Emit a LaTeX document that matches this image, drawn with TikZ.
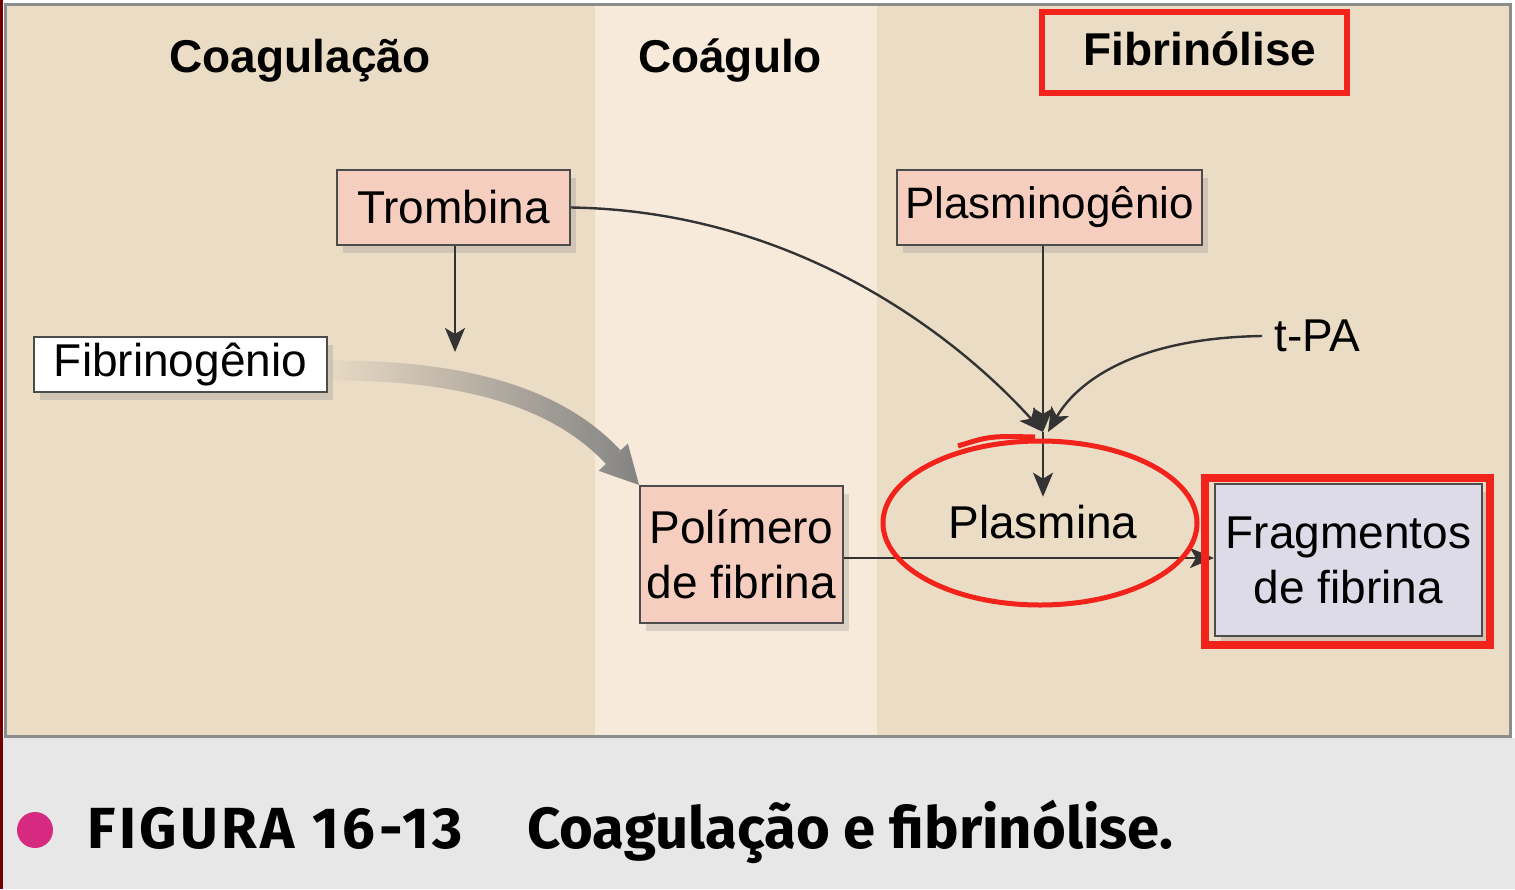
\documentclass[tikz,border=0pt]{standalone}
\usepackage{fontspec}
\setmainfont{Liberation Sans}
\newfontfamily\capfont{Fira Sans}
\usetikzlibrary{arrows.meta,positioning,calc,shadows,fadings}

\definecolor{panelbg}{HTML}{EBDCC6}
\definecolor{midbg}{HTML}{F7EADA}
\definecolor{capbg}{HTML}{E8E7E7}
\definecolor{protfill}{HTML}{F6CEBF}
\definecolor{fragfill}{HTML}{DCDBE7}
\definecolor{markred}{HTML}{F2231B}
\definecolor{dotpink}{HTML}{D62A80}

\begin{document}
\begin{tikzpicture}[x=0.5pt, y=-0.5pt, font=\fontsize{23}{27.5}\selectfont]
    \tikzset{
        protbox/.style={draw=black!70, line width=1pt, fill=protfill, align=center, inner sep=0pt,
                drop shadow={opacity=0.25, shadow xshift=3pt, shadow yshift=-4pt}},
        header/.style={anchor=base, font=\fontsize{23}{27.5}\selectfont\bfseries},
        thin/.style={draw=black!80, line width=1.2pt, -{Stealth[length=12pt, width=10pt, inset=3pt]}},
        bigarrow/.style={draw=black!50, line width=10pt, -{Triangle[length=19pt, width=20pt, line width=0pt]}, path fading=west},
        markbox/.style={draw=markred, line width=3pt}
    }
    \useasboundingbox (0,0) rectangle (1515,889);

    % Background panels
    \fill[panelbg] (5,5) rectangle (1510,735);
    \fill[midbg] (595,5) rectangle (877,735);
    \fill[capbg] (0,738) rectangle (1515,889);
    \draw[black!45, line width=1.5pt] (5,4) rectangle (1510,736);
    \fill[red!45!black] (0,0) rectangle (3,889);

    % Column headers
    \node[header] (hcoag) at (300,72) {Coagulação};
    \node[header] (hcoagulo) at (730,72) {Coágulo};
    \node[header] (hfibrin) at (1200,65) {Fibrinólise};

    % Boxes
    \node[protbox, minimum width=116.5pt, minimum height=37.5pt] (trombina) at (453.5,207.5) {Trombina};
    \node[protbox, fill=white, minimum width=146.5pt, minimum height=27.5pt] (fibrinog) at (180.5,364.5) {Fibrinogênio};
    \node[protbox, minimum width=152.5pt, minimum height=37.5pt, font=\fontsize{22}{26}\selectfont] (plasminog) at (1049.5,207.5) {Plasminogênio};
    \node[protbox, minimum width=101.5pt, minimum height=68.5pt] (polim) at (741.5,554.5) {Polímero\\de fibrina};
    \node[protbox, fill=fragfill, minimum width=133.5pt, minimum height=76pt] (frag) at (1348.5,560) {Fragmentos\\de fibrina};
    \node[inner sep=4pt] (plasmina) at (1043,522) {Plasmina};
    \node[anchor=west, inner sep=6pt] (tpa) at (1262,336) {t-PA};
    \coordinate (meet) at (1043,432);
    \coordinate (trombend) at (455,352);

    % Arrows
    \draw[thin] (trombina.south -| trombend) -- (trombend);
    \draw[bigarrow] ($(fibrinog.east)+(3,6)$) .. controls (470,370) and (560,400) .. (polim.north west);
    \draw[thin] (trombina.east) .. controls (800,211) and (960,340) .. (meet);
    \draw[thin] (plasminog.south -| meet) -- (meet);
    \draw[thin] (tpa.west) .. controls (1130,338) and (1075,385) .. ($(meet)+(5,0)$);
    \draw[thin] (meet) -- (plasmina.north);
    \draw[thin] (polim.east |- 0,558) -- (frag.west |- 0,558);

    % Red marks
    \draw[markbox] (1042,12) rectangle (1347,93);
    \draw[markbox, line width=4pt] (1205,478) rectangle (1490,645);
    \draw[markbox, line width=2.5pt] (1040,523) ellipse [x radius=157, y radius=82];
    \draw[markbox, line width=2.5pt] (958,446) .. controls (990,436) .. (1035,437);

    % Caption
    \fill[dotpink] (35,830) circle (18);
    \node[anchor=base west, inner sep=0pt, font=\capfont\fontsize{29}{34}\selectfont\bfseries\addfontfeatures{LetterSpace=6}] (figno) at (87,848) {FIGURA 16-13};
    \node[anchor=base west, inner sep=0pt, font=\capfont\fontsize{29}{34}\selectfont\bfseries] (figtitle) at (527,848) {Coagulação e fibrinólise.};
\end{tikzpicture}
\end{document}
